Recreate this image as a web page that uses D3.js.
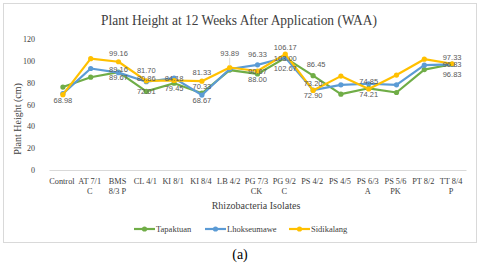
<!DOCTYPE html>
<html>
<head>
<meta charset="utf-8">
<script src="https://cdn.jsdelivr.net/npm/d3@7"></script>
<style>
  body { margin: 0; background: #fff; }
  svg { display: block; }
  .serif, .tick text { font-family: "Liberation Serif", "Times New Roman", "DejaVu Serif", serif; fill: #404040; }
  .lbl { font-family: "Liberation Sans", Arial, sans-serif; font-size: 7.5px; fill: #595959; }
</style>
</head>
<body>
<script>
// Chart data
const categories = ["Control", "AT 7/1 C", "BMS 8/3 P", "CL 4/1", "KI 8/1", "KI 8/4", "LB 4/2",
    "PG 7/3 CK", "PG 9/2 C", "PS 4/2", "PS 4/5", "PS 6/3 A", "PS 5/6 PK", "PT 8/2", "TT 8/4 P"];
const categoryLines = [["Control"], ["AT 7/1", "C"], ["BMS", "8/3 P"], ["CL 4/1"], ["KI 8/1"], ["KI 8/4"], ["LB 4/2"],
    ["PG 7/3", "CK"], ["PG 9/2", "C"], ["PS 4/2"], ["PS 4/5"], ["PS 6/3", "A"], ["PS 5/6", "PK"], ["PT 8/2"], ["TT 8/4", "P"]];
const yTicks = [0, 20, 40, 60, 80, 100, 120];

const tapaktuan   = [76, 85, 89.67, 72.01, 79.45, 70.33, 91.5, 88.00, 102.67, 86.45, 69.5, 74.85, 71, 92, 96.83];
const lhokseumawe = [70, 93, 89.16, 80.86, 84.18, 68.67, 92.5, 96.33, 103.00, 73.20, 78, 79, 78, 96, 96.83];
const sidikalang  = [68.98, 102, 99.16, 81.70, 82, 81.33, 93.89, 90.67, 106.17, 72.90, 86, 74.21, 87, 101.5, 97.33];

// where each data label sits relative to its point (null = no label)
const tapaktuanLabels   = [null, null, "below", "center", "below", "top", null, "below", "low", "right", null, "top", null, null, "low"];
const lhokseumaweLabels = [null, null, "over", "over", "center", "below", null, "high", "center", "top", null, null, null, null, "center"];
const sidikalangLabels  = ["below", null, "above", "high", null, "above", "leader", "center", "top", "below", null, "below", null, null, "top"];

const series = [
    { name: "Tapaktuan", values: tapaktuan, labels: tapaktuanLabels, color: "#70AD47" },
    { name: "Lhokseumawe", values: lhokseumawe, labels: lhokseumaweLabels, color: "#5B9BD5" },
    { name: "Sidikalang", values: sidikalang, labels: sidikalangLabels, color: "#FFC000" }
];

// label placement: [dx, dy of baseline]
const LABEL_POS = {
    above: [0, -6], high: [0, -8], top: [0, -4], over: [0, -1], center: [0, 3],
    below: [0, 8], low: [0, 13], right: [3, -9], leader: [0, -12]
};

const W = 480, H = 266;
const svg = d3.select("body").append("svg").attr("width", W).attr("height", H);

// outer chart frame
svg.append("rect").attr("x", 3.5).attr("y", 3.5).attr("width", 473).attr("height", 239)
    .attr("fill", "#fff").attr("stroke", "#d9d9d9");

const x = d3.scaleBand().domain(categories).range([49, 466]).padding(0);
const y = d3.scaleLinear().domain([0, 120]).range([170, 39]);
const cx = c => x(c) + x.bandwidth() / 2;

// title
svg.append("text").attr("class", "serif").attr("x", 239).attr("y", 25).attr("text-anchor", "middle")
    .attr("textLength", 276).attr("lengthAdjust", "spacingAndGlyphs")
    .style("font-size", "14px")
    .text("Plant Height at 12 Weeks After Application (WAA)");

// y axis
const yAxis = svg.append("g").attr("transform", "translate(49,0)")
    .call(d3.axisLeft(y).tickValues(yTicks).tickSize(0).tickPadding(14));
yAxis.attr("font-family", null);
yAxis.select(".domain").remove();
yAxis.selectAll(".tick text").style("font-size", "8px");

// x axis
const xAxis = svg.append("g").attr("transform", "translate(0,170)")
    .call(d3.axisBottom(x).tickSize(0).tickFormat(""));
xAxis.attr("font-family", null);
xAxis.select(".domain").attr("stroke", "#d9d9d9");
xAxis.selectAll(".tick text").each(function(d, i) {
    const t = d3.select(this).style("font-size", "8.3px").attr("dy", null);
    categoryLines[i].forEach((line, k) => {
        t.append("tspan").attr("x", -1).attr("y", 14 + k * 10).text(line);
    });
});

// axis titles
svg.append("text").attr("class", "serif").attr("x", 256).attr("y", 209).attr("text-anchor", "middle")
    .style("font-size", "10px")
    .text("Rhizobacteria Isolates");
svg.append("text").attr("class", "serif").attr("transform", "translate(21,119) rotate(-90)")
    .attr("text-anchor", "middle").style("font-size", "10px")
    .text("Plant Height (cm)");

// lines and markers
const line = d3.line().x((d, i) => cx(categories[i])).y(d => y(d));
series.forEach(s => {
    const g = svg.append("g");
    g.append("path").datum(s.values).attr("d", line)
        .attr("fill", "none").attr("stroke", s.color).attr("stroke-width", 2.2).attr("stroke-linejoin", "round");
    g.selectAll("circle").data(s.values).join("circle")
        .attr("cx", (d, i) => cx(categories[i])).attr("cy", d => y(d)).attr("r", 2.6)
        .attr("fill", s.color);
});

// data labels
series.forEach(s => {
    s.values.forEach((v, i) => {
        const pos = s.labels[i];
        if (!pos) return;
        const [dx, dy] = LABEL_POS[pos];
        const px = cx(categories[i]), py = y(v);
        if (pos === "leader") {
            svg.append("line").attr("x1", px).attr("x2", px)
                .attr("y1", py + dy + 2).attr("y2", py - 2).attr("stroke", "#d9d9d9");
        }
        svg.append("text").attr("class", "lbl")
            .attr("x", px + dx).attr("y", py + dy)
            .attr("text-anchor", "middle").text(v.toFixed(2));
    });
});

// legend
const legend = svg.append("g").attr("transform", "translate(0,229)");
const legendX = [134, 205, 289];
series.forEach((s, i) => {
    const lg = legend.append("g").attr("transform", `translate(${legendX[i]},0)`);
    lg.append("line").attr("x1", 0).attr("x2", 21).attr("stroke", s.color).attr("stroke-width", 2.2);
    lg.append("circle").attr("cx", 10.5).attr("r", 2.6).attr("fill", s.color);
    lg.append("text").attr("class", "serif").attr("x", 22).attr("y", 3)
        .style("font-size", "8.5px")
        .text(s.name);
});

// panel caption
svg.append("text").attr("class", "serif").attr("x", 240).attr("y", 259).attr("text-anchor", "middle")
    .style("font-size", "14px").style("fill", "#000")
    .text("(a)");
</script>
</body>
</html>
